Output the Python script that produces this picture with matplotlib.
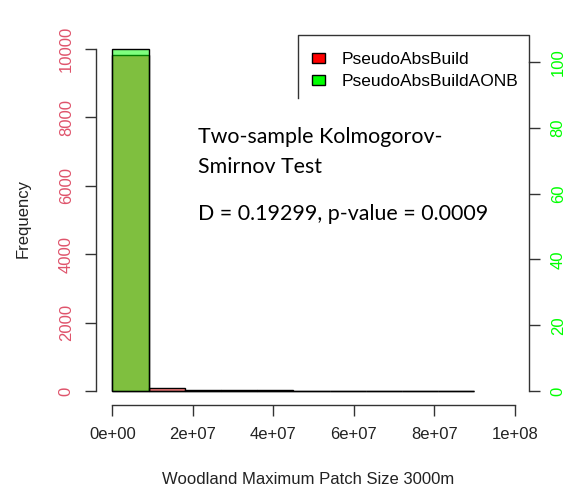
import numpy as np
import matplotlib
matplotlib.use("Agg")
import matplotlib.pyplot as plt
from matplotlib.patches import Patch
from matplotlib.lines import Line2D

plt.rcParams['font.family'] = ['Liberation Sans', 'DejaVu Sans']

# histogram bins (shared breaks) and counts per group
bin_edges = np.linspace(0, 9e7, 11)
counts_build = [9830, 80, 30, 25, 20, 0, 0, 0, 0, 0]
counts_aonb = [104, 0, 0, 0, 0, 0, 0, 0, 0, 0]

series_names = ["PseudoAbsBuild", "PseudoAbsBuildAONB"]
x_ticks = [0, 2e7, 4e7, 6e7, 8e7, 1e8]
x_ticklabels = ["0e+00", "2e+07", "4e+07", "6e+07", "8e+07", "1e+08"]
left_ticks = [0, 2000, 4000, 6000, 8000, 10000]
right_ticks = [0, 20, 40, 60, 80, 100]

ks_title = "Two-sample Kolmogorov-\nSmirnov Test"
ks_result = "D = 0.19299, p-value = 0.0009"

W, H = 569, 495
fig = plt.figure(figsize=(W / 100, H / 100), dpi=100)

# plot region in pixels
left, right, top, bottom = 96, 528.5, 35.3, 404.7
ax = fig.add_axes([left / W, 1 - bottom / H, (right - left) / W, (bottom - top) / H])
ax2 = ax.twinx()

red = (1, 0, 0, 0.5)
green = (0, 1, 0, 0.5)
pink = "#DF536B"
lime = "#00FF00"
axcol = "#333333"

widths = np.diff(bin_edges)
ax.bar(bin_edges[:-1], counts_build, width=widths, align='edge',
       color=red, edgecolor='black', linewidth=1)
ax2.bar(bin_edges[:-1], counts_aonb, width=widths, align='edge',
        color=green, edgecolor='black', linewidth=1)

ax.set_xlim(-4.05e6, 103.43e6)
ax.set_ylim(-400, 10400)
ax2.set_ylim(-4.16, 108.16)

for a in (ax, ax2):
    for s in a.spines.values():
        s.set_visible(False)
    a.patch.set_visible(False)

ax.spines['left'].set_visible(True)
ax.spines['left'].set_bounds(0, 10000)
ax.spines['bottom'].set_visible(True)
ax.spines['bottom'].set_bounds(0, 1e8)
ax2.spines['right'].set_visible(True)
ax2.spines['right'].set_bounds(0, 100)
for s in (ax.spines['left'], ax.spines['bottom'], ax2.spines['right']):
    s.set_color(axcol)
    s.set_linewidth(1)

ax.set_xticks(x_ticks)
ax.set_xticklabels(x_ticklabels)
ax.set_yticks(left_ticks)
ax.set_yticklabels([str(t) for t in left_ticks], rotation=90, va='center')
ax2.set_yticks(right_ticks)
ax2.set_yticklabels([str(t) for t in right_ticks], rotation=90, va='center')

ax.tick_params(axis='x', direction='out', length=8, width=1, color=axcol,
               pad=8, labelsize=12, labelcolor='#222222')
ax.tick_params(axis='y', direction='out', length=8, width=1, color=axcol,
               pad=8, labelsize=12, labelcolor=pink)
ax2.tick_params(axis='y', direction='out', length=8, width=1, color=axcol,
                pad=8, labelsize=12, labelcolor=lime)

fig.text(23 / W, 1 - 219 / H, "Frequency", rotation=90, ha='center', va='center',
         fontsize=12, color='#222222')
fig.text(308 / W, 1 - 480 / H, "Woodland Maximum Patch Size 3000m", ha='center',
         va='center', fontsize=12, color='#222222')

# legend box (bottom edge hidden under the test text box)
frame = Line2D([298 / W, 298 / W, right / W, right / W],
               [1 - 98 / H, 1 - top / H, 1 - top / H, 1 - 62 / H],
               transform=fig.transFigure, color=axcol, linewidth=1)
fig.add_artist(frame)
handles = [Patch(facecolor='red', edgecolor='black', linewidth=1),
           Patch(facecolor=lime, edgecolor='black', linewidth=1)]
fig.legend(handles, series_names, loc='upper left',
           bbox_to_anchor=(312 / W, 1 - 52 / H), frameon=False, fontsize=12.5,
           handlelength=0.73, handleheight=0.56, handletextpad=0.95,
           labelspacing=0.4, borderpad=0, borderaxespad=0)

ks_font = dict(family='Lato', fontsize=15.4, color='black')
title_lines = ks_title.split("\n")
fig.text(198 / W, 1 - 143 / H, title_lines[0], va='baseline', **ks_font)
fig.text(198 / W, 1 - 172.7 / H, title_lines[1], va='baseline', **ks_font)
fig.text(198 / W, 1 - 220 / H, ks_result, va='baseline', **ks_font)

fig.savefig("out.png", dpi=100)
